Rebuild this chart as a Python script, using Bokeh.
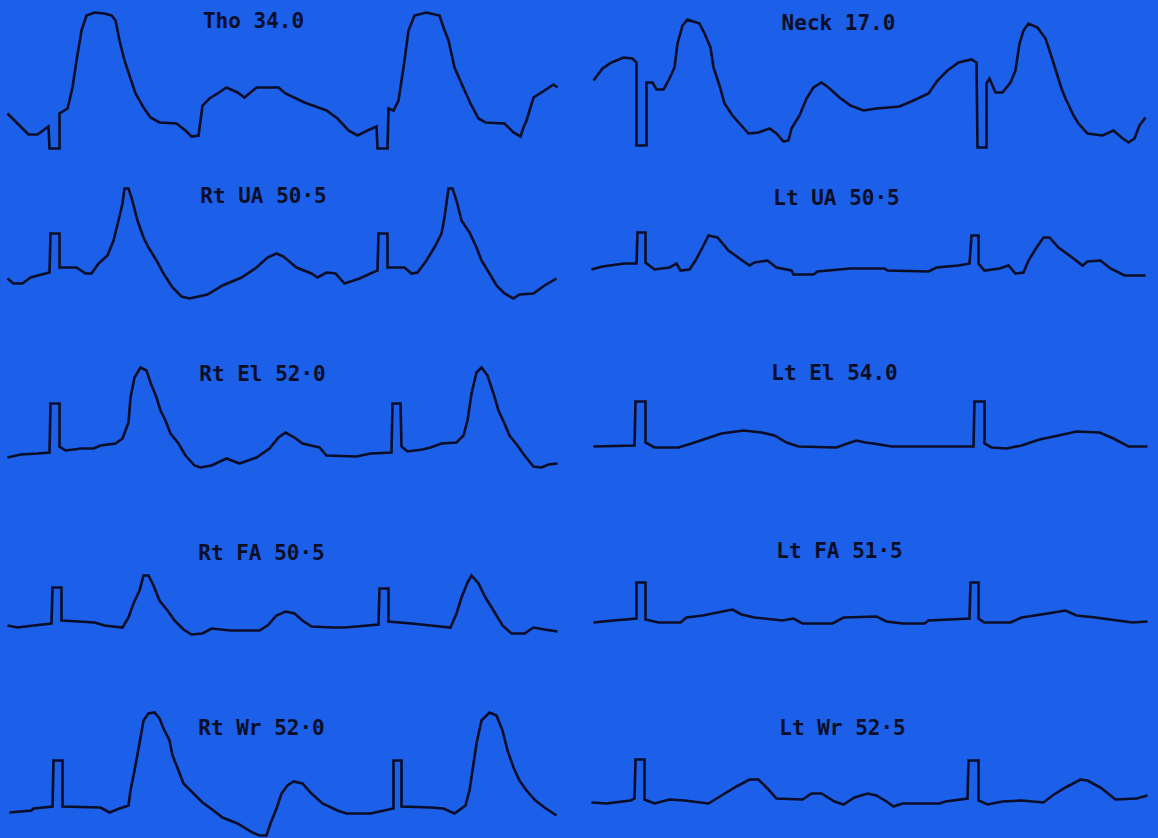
from bokeh.plotting import figure
from bokeh.layouts import gridplot
from bokeh.models import Range1d
from bokeh.core.properties import value
from bokeh.embed import file_html
from bokeh.resources import INLINE
from bokeh.core.templates import get_env

# ---- data: pulse volume recordings (time in ms-like units, deflection amplitude) ----
tho_t = [7, 17, 28, 37, 48, 49, 59, 59, 67, 69, 72, 76, 81, 86, 94, 104, 111, 115, 119, 124, 130, 135, 143, 150, 159, 176, 185, 191, 198, 202, 209, 217, 226, 237, 244, 256, 278, 285, 304, 326, 337, 348, 357, 367, 376, 377, 387, 388, 393, 398, 404, 408, 414, 426, 439, 443, 448, 454, 461, 470, 478, 485, 504, 513, 520, 523, 526, 533, 544, 553, 557]
tho_v = [37, 27, 16, 16, 24, 2, 2, 37, 42, 50, 63, 90, 120, 135, 138, 137, 135, 130, 110, 90, 72, 57, 43, 33, 28, 27, 20, 14, 15, 45, 52, 57, 63, 58, 53, 63, 63, 57, 48, 40, 32, 20, 15, 20, 24, 2, 2, 42, 40, 50, 90, 120, 135, 138, 135, 123, 110, 83, 67, 47, 32, 28, 27, 18, 14, 23, 30, 53, 60, 66, 63]

neck_t = [14, 23, 32, 44, 53, 57, 57, 67, 67, 73, 77, 84, 90, 95, 98, 103, 108, 120, 125, 131, 134, 140, 145, 153, 160, 169, 179, 190, 197, 204, 209, 212, 220, 227, 234, 242, 249, 260, 271, 284, 297, 320, 334, 349, 358, 368, 379, 392, 397, 398, 407, 407, 410, 416, 423, 431, 436, 440, 444, 449, 458, 466, 471, 477, 482, 486, 494, 499, 508, 523, 534, 542, 549, 555, 560, 566]
neck_v = [70, 82, 88, 93, 92, 88, 5, 5, 68, 68, 61, 61, 72, 83, 107, 125, 131, 127, 117, 103, 83, 65, 47, 35, 27, 17, 18, 22, 17, 9, 10, 22, 35, 52, 63, 68, 63, 53, 45, 40, 42, 44, 50, 57, 70, 80, 88, 91, 88, 3, 3, 67, 72, 58, 58, 68, 80, 107, 120, 127, 123, 112, 97, 78, 62, 52, 35, 27, 17, 15, 20, 13, 8, 12, 25, 33]

rtua_t = [7, 13, 22, 30, 41, 49, 50, 59, 59, 76, 85, 91, 98, 107, 113, 118, 122, 124, 128, 131, 137, 143, 148, 156, 163, 172, 181, 189, 207, 222, 241, 256, 267, 276, 283, 296, 311, 317, 326, 335, 344, 359, 370, 377, 378, 387, 387, 404, 411, 417, 426, 435, 441, 444, 448, 452, 456, 461, 469, 476, 481, 489, 496, 504, 513, 519, 533, 544, 556]
rtua_v = [22, 17, 17, 23, 26, 28, 67, 67, 33, 33, 27, 27, 37, 45, 60, 80, 97, 112, 112, 103, 80, 63, 53, 40, 27, 13, 4, 2, 6, 15, 23, 33, 43, 47, 44, 33, 27, 23, 28, 27, 17, 22, 27, 30, 67, 67, 33, 33, 27, 28, 40, 55, 67, 83, 112, 112, 100, 80, 68, 53, 40, 27, 15, 7, 2, 6, 7, 15, 22]

ltua_t = [12, 23, 45, 57, 58, 66, 66, 75, 90, 97, 101, 110, 116, 123, 129, 138, 149, 160, 170, 175, 188, 197, 212, 214, 234, 238, 271, 305, 308, 349, 357, 379, 390, 392, 399, 399, 405, 420, 429, 436, 444, 449, 457, 464, 470, 479, 494, 503, 508, 521, 531, 545, 566]
ltua_v = [31, 34, 37, 37, 68, 68, 38, 31, 33, 37, 30, 31, 40, 53, 65, 63, 50, 42, 35, 38, 40, 33, 30, 26, 26, 29, 32, 32, 30, 29, 33, 35, 37, 65, 65, 37, 30, 32, 35, 27, 28, 40, 53, 63, 63, 53, 42, 35, 39, 40, 32, 25, 25]

rtel_t = [7, 20, 37, 49, 50, 59, 59, 65, 81, 93, 100, 115, 122, 128, 130, 134, 140, 146, 150, 156, 160, 165, 170, 178, 185, 194, 200, 211, 226, 239, 256, 269, 278, 285, 294, 302, 319, 326, 356, 370, 391, 392, 400, 401, 407, 422, 430, 441, 456, 463, 467, 471, 476, 481, 487, 493, 498, 504, 509, 517, 524, 533, 541, 548, 557]
rtel_v = [13, 16, 17, 18, 67, 67, 24, 20, 22, 22, 25, 27, 32, 48, 73, 93, 103, 100, 88, 73, 60, 50, 37, 27, 15, 5, 3, 5, 12, 7, 13, 22, 33, 38, 33, 27, 23, 15, 14, 17, 18, 67, 67, 24, 19, 21, 23, 27, 28, 35, 50, 77, 98, 103, 95, 77, 60, 47, 35, 25, 15, 4, 3, 6, 7]

ltel_t = [14, 55, 56, 66, 66, 75, 99, 112, 127, 142, 164, 182, 195, 207, 219, 257, 268, 277, 286, 294, 312, 394, 395, 405, 405, 412, 427, 442, 460, 479, 497, 520, 534, 549, 568]
ltel_v = [24, 25, 69, 69, 28, 23, 23, 27, 32, 37, 40, 38, 35, 28, 24, 23, 27, 30, 28, 27, 24, 24, 69, 69, 27, 23, 22, 25, 31, 35, 39, 38, 32, 24, 24]

rtfa_t = [7, 17, 33, 51, 52, 61, 61, 78, 94, 104, 122, 128, 133, 139, 143, 148, 153, 159, 167, 174, 183, 191, 202, 211, 230, 259, 267, 276, 285, 294, 302, 311, 333, 344, 356, 378, 379, 388, 388, 411, 430, 450, 456, 461, 467, 471, 478, 485, 493, 502, 511, 524, 533, 544, 557]
rtfa_v = [15, 13, 15, 17, 53, 53, 20, 19, 18, 15, 13, 23, 37, 50, 65, 65, 55, 40, 30, 20, 11, 6, 7, 12, 10, 10, 15, 25, 29, 27, 20, 14, 13, 13, 14, 16, 52, 52, 19, 17, 15, 13, 27, 43, 58, 65, 57, 43, 30, 15, 7, 7, 13, 11, 9]

ltfa_t = [14, 34, 57, 57, 66, 66, 79, 101, 107, 123, 138, 153, 162, 175, 203, 214, 223, 253, 264, 297, 307, 323, 345, 349, 390, 391, 399, 399, 405, 431, 442, 468, 486, 497, 516, 538, 553, 568]
ltfa_v = [18, 20, 22, 58, 58, 21, 18, 18, 23, 25, 28, 31, 26, 23, 20, 22, 17, 17, 23, 24, 19, 17, 17, 20, 22, 58, 58, 22, 18, 18, 23, 27, 30, 25, 23, 20, 18, 19]

rtwr_t = [9, 31, 33, 52, 53, 62, 62, 100, 109, 119, 128, 130, 134, 139, 143, 148, 154, 159, 163, 169, 172, 178, 183, 193, 202, 213, 222, 237, 252, 259, 266, 270, 276, 281, 287, 293, 302, 311, 322, 337, 346, 370, 393, 393, 401, 401, 430, 443, 454, 465, 469, 472, 476, 481, 489, 496, 502, 507, 513, 519, 526, 535, 544, 556]
rtwr_v = [28, 30, 32, 34, 80, 80, 34, 33, 28, 32, 35, 50, 70, 97, 120, 127, 128, 122, 112, 100, 85, 70, 57, 47, 38, 30, 23, 17, 8, 5, 5, 17, 32, 47, 55, 59, 57, 47, 37, 30, 27, 27, 32, 80, 80, 34, 33, 32, 27, 35, 50, 70, 97, 120, 128, 125, 110, 90, 73, 60, 50, 40, 33, 25]

ltwr_t = [12, 27, 51, 55, 56, 65, 65, 75, 90, 105, 129, 142, 157, 170, 179, 188, 197, 223, 232, 242, 255, 264, 275, 288, 297, 307, 314, 323, 360, 366, 388, 389, 399, 399, 408, 423, 442, 464, 473, 486, 501, 508, 521, 531, 536, 557, 568]
ltwr_v = [38, 37, 40, 42, 81, 81, 41, 37, 41, 40, 37, 45, 54, 61, 61, 52, 42, 41, 47, 47, 39, 36, 43, 47, 45, 39, 34, 37, 37, 39, 42, 80, 80, 40, 36, 39, 40, 38, 45, 53, 61, 60, 53, 45, 41, 42, 45]

labels = ["Tho 34.0", "Neck 17.0", "Rt UA 50·5", "Lt UA 50·5", "Rt El 52·0",
          "Lt El 54.0", "Rt FA 50·5", "Lt FA 51·5", "Rt Wr 52·0", "Lt Wr 52·5"]
series = [(tho_t, tho_v), (neck_t, neck_v), (rtua_t, rtua_v), (ltua_t, ltua_v),
          (rtel_t, rtel_v), (ltel_t, ltel_v), (rtfa_t, rtfa_v), (ltfa_t, ltfa_v),
          (rtwr_t, rtwr_v), (ltwr_t, ltwr_v)]

# ---- layout / style ----
BG = "#1c5fe8"
INK = "#0b0e26"
row_heights = [170, 170, 170, 170, 158]
row_yrange = [(-20, 150), (-40, 130), (-40, 130), (-40, 130), (2, 160)]
label_pos = [(253, 130), (259, 128), (263, 105), (257, 103), (262, 97),
             (255, 98), (261, 88), (260, 90), (261, 113), (263, 113)]

figs = []
for i, ((t, v), lab) in enumerate(zip(series, labels)):
    r = i // 2
    p = figure(width=579, height=row_heights[r], output_backend="svg",
               toolbar_location=None, x_range=Range1d(0, 579),
               y_range=Range1d(*row_yrange[r]), min_border=0,
               background_fill_color=BG, border_fill_color=BG,
               outline_line_color=None)
    p.axis.visible = False
    p.grid.visible = False
    p.line(t, v, line_color=INK, line_width=2.6, line_join="miter")
    lx, ly = label_pos[i]
    p.text(x=[lx], y=[ly], text=[lab], text_align="center", text_baseline="middle",
           text_color=INK, text_font=value("DejaVu Sans Mono"),
           text_font_size="21px", text_font_style="bold")
    figs.append(p)

grid = gridplot(figs, ncols=2, toolbar_location=None)

tmpl = get_env().from_string(
    """{% extends "file.html" %}
{% block preamble %}<style>html,body{margin:0 !important;padding:0;background:#1c5fe8;overflow:hidden;}</style>{% endblock %}""")

open("out.html", "w").write(file_html(grid, INLINE, template=tmpl))
